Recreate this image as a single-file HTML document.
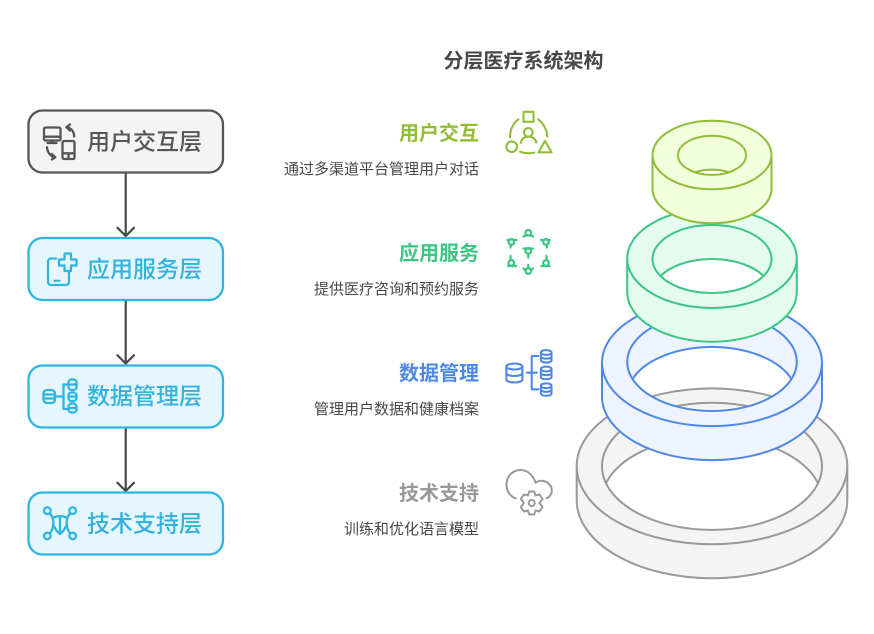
<!DOCTYPE html>
<html lang="zh">
<head>
<meta charset="utf-8">
<title>分层医疗系统架构</title>
<style>
html,body{margin:0;padding:0;background:#fff;}
svg{display:block;}
text{font-family:"Liberation Sans","Noto Sans CJK SC",sans-serif;}
.title{font-size:20px;font-weight:700;fill:#484848;text-anchor:middle;}
.node{font-size:23px;font-weight:500;}
.lab{font-size:20px;font-weight:700;text-anchor:end;}
.desc{font-size:15px;fill:#484848;text-anchor:end;}
.i{fill:none;stroke-linecap:round;stroke-linejoin:round;}
</style>
</head>
<body>
<svg width="874" height="634" viewBox="0 0 874 634" xmlns="http://www.w3.org/2000/svg">
<rect width="874" height="634" fill="#fff"/>
<text class="title" x="523.5" y="67.5">分层医疗系统架构</text>

<!-- rings -->
<g stroke-width="2" fill-rule="evenodd">
  <g stroke="#999999">
    <path fill="#f4f4f4" stroke="none" d="M576.7 466.3A135.3 78 0 0 1 847.3 466.3V500.3A135.3 78 0 0 1 576.7 500.3Z M606 483.3A110 63.6 0 0 0 818 483.3A110 63.6 0 0 0 606 483.3Z"/>
    <path fill="none" d="M576.7 466.3A135.3 78 0 0 1 847.3 466.3V500.3A135.3 78 0 0 1 576.7 500.3Z"/>
    <path fill="none" d="M576.7 466.3A135.3 78 0 0 0 847.3 466.3"/>
    <ellipse cx="712" cy="466.3" rx="110" ry="63.6" fill="none"/>
    <path fill="none" d="M606 483.3A110 63.6 0 0 1 818 483.3"/>
  </g>
  <g stroke="#4e88e7">
    <path fill="#edf3ff" stroke="none" d="M602 362.7A110 63.5 0 0 1 822 362.7V396.7A110 63.5 0 0 1 602 396.7Z M632.5 379A84.8 49 0 0 0 791.5 379A84.8 49 0 0 0 632.5 379Z"/>
    <path fill="none" d="M602 362.7A110 63.5 0 0 1 822 362.7V396.7A110 63.5 0 0 1 602 396.7Z"/>
    <path fill="none" d="M602 362.7A110 63.5 0 0 0 822 362.7"/>
    <ellipse cx="712" cy="362" rx="84.8" ry="49" fill="none"/>
    <path fill="none" d="M632.5 379A84.8 49 0 0 1 791.5 379"/>
  </g>
  <g stroke="#3cc583">
    <path fill="#e3fcef" stroke="none" d="M627.2 258.4A84.8 49.6 0 0 1 796.8 258.4V292.2A84.8 49.6 0 0 1 627.2 292.2Z M660.500 276A59.5 34 0 0 0 763.500 276A59.5 34 0 0 0 660.500 276Z"/>
    <path fill="none" d="M627.2 258.4A84.8 49.6 0 0 1 796.8 258.4V292.2A84.8 49.6 0 0 1 627.2 292.2Z"/>
    <path fill="none" d="M627.2 258.4A84.8 49.6 0 0 0 796.8 258.4"/>
    <ellipse cx="712" cy="259" rx="59.5" ry="34" fill="none"/>
    <path fill="none" d="M660.500 276A59.5 34 0 0 1 763.500 276"/>
  </g>
  <g stroke="#92bd39">
    <path fill="#f2fedc" stroke="none" d="M652.5 155A59.5 34.3 0 0 1 771.5 155V189A59.5 34.3 0 0 1 652.5 189Z M695 172.300A34 19.6 0 0 0 729 172.300A34 19.6 0 0 0 695 172.300Z"/>
    <path fill="none" d="M652.5 155A59.5 34.3 0 0 1 771.5 155V189A59.5 34.3 0 0 1 652.5 189Z"/>
    <path fill="none" d="M652.5 155A59.5 34.3 0 0 0 771.5 155"/>
    <ellipse cx="712" cy="155.3" rx="34" ry="19.6" fill="none"/>
    <path fill="none" d="M695 172.300A34 19.6 0 0 1 729 172.300"/>
  </g>
</g>

<!-- arrows -->
<g fill="none" stroke="#484848" stroke-width="2.2" stroke-linecap="round" stroke-linejoin="round">
  <path d="M125.7 173V236M117.5 227.8L125.7 236L134 227.8"/>
  <path d="M125.7 300.5V363.5M117.5 355.3L125.7 363.5L134 355.3"/>
  <path d="M125.7 428V491M117.5 482.8L125.7 491L134 482.8"/>
</g>

<!-- boxes -->
<g stroke-width="2.3">
  <rect x="28.500" y="110.500" width="194.500" height="62" rx="14" fill="#f4f4f4" stroke="#555555"/>
  <rect x="28.500" y="238" width="194.500" height="62" rx="14" fill="#e5f6ff" stroke="#2db5e2"/>
  <rect x="28.500" y="365.500" width="194.500" height="62" rx="14" fill="#e5f6ff" stroke="#2db5e2"/>
  <rect x="28.500" y="492.500" width="194.500" height="62" rx="14" fill="#e5f6ff" stroke="#2db5e2"/>
</g>
<text class="node" x="87" y="149.500" fill="#555555">用户交互层</text>
<text class="node" x="87" y="277" fill="#33b2de">应用服务层</text>
<text class="node" x="87" y="404" fill="#33b2de">数据管理层</text>
<text class="node" x="87" y="531.500" fill="#33b2de">技术支持层</text>

<!-- box icons -->
<g class="i" stroke="#555555" stroke-width="2.300">
  <rect x="44" y="127.500" width="16.500" height="13" rx="1.500"/>
  <path d="M44 136.700H60.500M52 140.500V142.700M47.500 143H56.500"/>
  <rect x="62.500" y="141" width="12" height="18" rx="1.500"/>
  <path d="M62.500 153.300H74.500M68.500 153.300V159"/>
  <path d="M66.300 127.300C70.500 127.500 74 131 74.200 136.500M66.300 127.300L70 124.500M66.300 127.300L70 130.500"/>
  <path d="M47 147.300C47.500 152.500 50.500 156.800 55.300 157.300M55.300 157.300L51.800 154M55.300 157.300L51.800 159.500"/>
</g>
<g class="i" stroke="#2db5e2" stroke-width="2.200">
  <path d="M56 258.500H51A3 3 0 0 0 48 261.500V282A3 3 0 0 0 51 285H66A3 3 0 0 0 69 282V272"/>
  <path d="M54.500 280.800H59.500"/>
  <path d="M64.500 253.500H71V259.500H76.500V265.500H71V271H64.500V265.500H59V259.500H64.500Z"/>
</g>
<g class="i" stroke="#2db5e2" stroke-width="2.300">
  <rect x="43.500" y="390" width="11.500" height="13" rx="3.500"/>
  <path d="M43.500 394.500H55M43.500 398.500H55M55 396.500H63.500M68 384.500H63.500V409H68"/>
  <rect x="68.500" y="379.500" width="8" height="10.500" rx="3"/>
  <path d="M68.500 384.500H76.500"/>
  <rect x="68.500" y="392.500" width="8" height="8.500" rx="3"/>
  <path d="M68.500 396.500H76.500"/>
  <rect x="68.500" y="403.500" width="8" height="9" rx="3"/>
  <path d="M68.500 408H76.500"/>
</g>
<g class="i" stroke="#2db5e2" stroke-width="2.300">
  <circle cx="47.300" cy="510.700" r="3.300"/>
  <circle cx="72.700" cy="510.700" r="3.300"/>
  <circle cx="47.300" cy="536" r="3.300"/>
  <circle cx="72.700" cy="536" r="3.300"/>
  <path d="M53 518C57 515.500 63 515.500 67 518"/>
  <path d="M54.500 527C56 530.500 58 532.500 60 534C62 532.500 64 530.500 65.500 527"/>
  <path d="M60 516.500V534M50 513.500C54.500 518 54.500 527 50 533.500M70 513.500C65.500 518 65.500 527 70 533.500"/>
</g>

<!-- labels -->
<text class="lab" x="479" y="140" fill="#92bd39">用户交互</text>
<text class="desc" x="479" y="174">通过多渠道平台管理用户对话</text>
<text class="lab" x="479" y="260" fill="#3cc583">应用服务</text>
<text class="desc" x="479" y="294">提供医疗咨询和预约服务</text>
<text class="lab" x="479" y="380" fill="#4e88e7">数据管理</text>
<text class="desc" x="479" y="414">管理用户数据和健康档案</text>
<text class="lab" x="479" y="500" fill="#999999">技术支持</text>
<text class="desc" x="479" y="534">训练和优化语言模型</text>

<!-- right icons -->
<g class="i" stroke="#92bd39" stroke-width="2.100">
  <rect x="523.500" y="111.800" width="10" height="10"/>
  <circle cx="528.300" cy="132.300" r="4.300"/>
  <path d="M521 142.700C522 134.500 535 134.500 536.300 142.700"/>
  <circle cx="511.700" cy="146.700" r="5.300"/>
  <path d="M538.500 152.300H551.500L545 140.800Z"/>
  <path d="M518.300 119.300C513 123.500 510 130 510 137.300"/>
  <path d="M538.300 119.300C543.500 123.500 547 130 547.300 136.700"/>
  <path d="M520 151.700C524.500 153.300 529.500 153.500 534.300 152.700"/>
</g>
<g class="i" stroke="#3cc583" stroke-width="2.300">
  <circle cx="528.300" cy="232.800" r="2.800"/>
  <path d="M523.500 236.500C525 235.500 526 235.500 526.500 235M533 236.500C531.500 235.500 530.500 235.500 530 235"/>
  <circle cx="511.300" cy="242" r="2.800"/>
  <path d="M507.500 240H510M514.500 240H516.500M511 245L510.500 247.500"/>
  <circle cx="546" cy="242" r="2.800"/>
  <path d="M541 240H543M547 240H549.500M546.500 245L547 247.500"/>
  <circle cx="528.300" cy="251" r="2.800"/>
  <path d="M523.500 248.500H533M528.300 254V257.500"/>
  <circle cx="511.300" cy="263" r="2.800"/>
  <path d="M510.500 256V260M508 266H516"/>
  <circle cx="546" cy="263" r="2.800"/>
  <path d="M546.500 256V260M541.500 266H549.500"/>
  <circle cx="528.300" cy="271" r="2.800"/>
  <path d="M528.300 265V268M523.500 268.500L525.500 270M533 268.500L531 270"/>
</g>
<g class="i" stroke="#4e88e7" stroke-width="2.100">
  <ellipse cx="514.400" cy="366.500" rx="8" ry="3"/>
  <path d="M506.400 366.500V379.500C506.400 383.500 522.400 383.500 522.400 379.500V366.500M506.400 373C506.400 377 522.400 377 522.400 373"/>
  <path d="M527 372.700H537M538.300 356H531.700V389.300H538.300"/>
  <ellipse cx="546.200" cy="352.500" rx="5.300" ry="2.400"/>
  <path d="M540.900 352.500V360.300C540.900 363.300 551.500 363.300 551.500 360.300V352.500M540.900 356.500C540.900 359.300 551.500 359.300 551.500 356.500"/>
  <ellipse cx="546.200" cy="369" rx="5.300" ry="2.400"/>
  <path d="M540.900 369V377C540.900 380 551.500 380 551.500 377V369M540.900 373C540.900 375.800 551.500 375.800 551.500 373"/>
  <ellipse cx="546.200" cy="385.700" rx="5.300" ry="2.400"/>
  <path d="M540.900 385.700V393.500C540.900 396.500 551.500 396.500 551.500 393.500V385.700M540.900 389.700C540.900 392.500 551.500 392.500 551.500 389.700"/>
</g>
<g class="i" stroke="#999999" stroke-width="2">
  <path d="M515.700 498.300C510 496.500 506.500 491 506.500 484.500C506.500 476 513 470 520.500 470C527.500 470 533 475 535.700 482.700C538 481 541 480.500 543.500 481C548.500 482 551.800 486 551.800 490.500C551.800 493.500 550 496.500 546.700 498.300"/>
  <path d="M529.200 491.500H534.200L535.500 495.500L539.500 494.500L542.500 499L539.500 503L542.500 507L539.500 511.500L535.500 510.500L534.200 514.500H529.200L527.900 510.500L523.900 511.500L520.900 507L523.900 503L520.900 499L523.900 494.500L527.900 495.500Z"/>
  <circle cx="531.700" cy="503" r="3"/>
</g>
</svg>
</body>
</html>
